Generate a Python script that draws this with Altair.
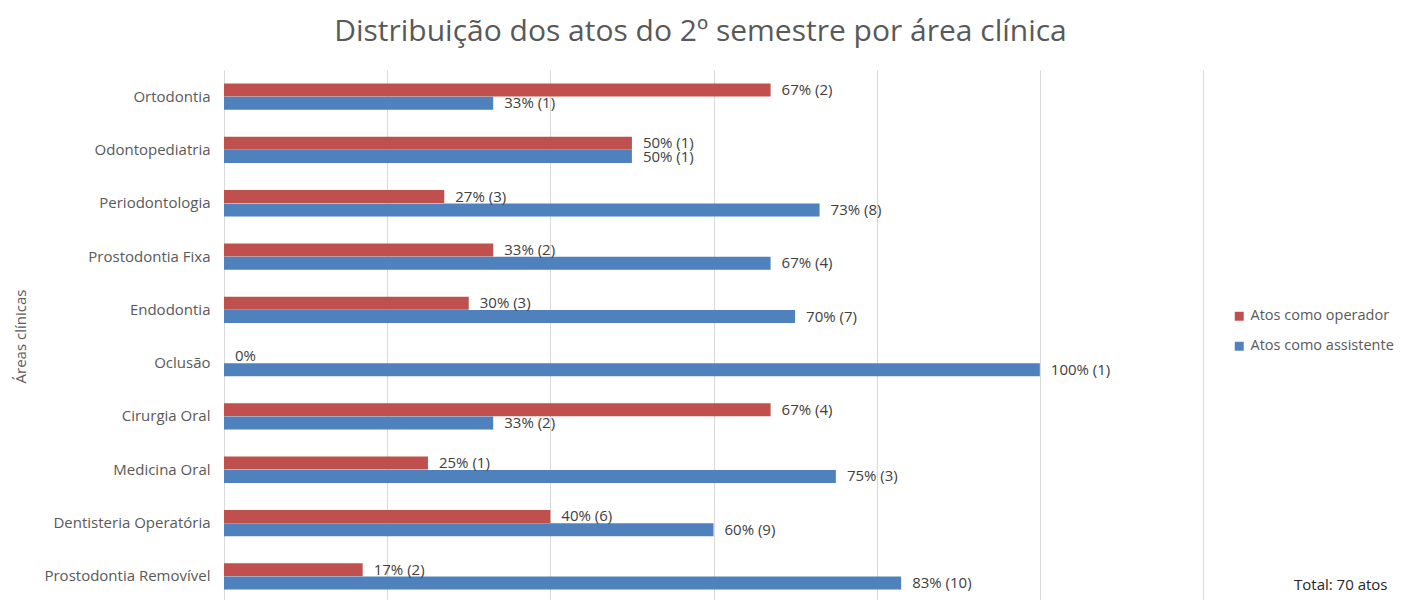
import altair as alt
import pandas as pd

categories = ["Ortodontia", "Odontopediatria", "Periodontologia", "Prostodontia Fixa",
              "Endodontia", "Oclusão", "Cirurgia Oral", "Medicina Oral",
              "Dentisteria Operatória", "Prostodontia Removível"]
series = ["Atos como operador", "Atos como assistente"]
operador_pct = [67, 50, 27, 33, 30, 0, 67, 25, 40, 17]
operador_lbl = ["67% (2)", "50% (1)", "27% (3)", "33% (2)", "30% (3)", "0%",
                "67% (4)", "25% (1)", "40% (6)", "17% (2)"]
assistente_pct = [33, 50, 73, 67, 70, 100, 33, 75, 60, 83]
assistente_lbl = ["33% (1)", "50% (1)", "73% (8)", "67% (4)", "70% (7)", "100% (1)",
                  "33% (2)", "75% (3)", "60% (9)", "83% (10)"]
colors = ["#C0504D", "#4F81BD"]
total_text = "Total: 70 atos"

rows = []
for c, v, l in zip(categories, operador_pct, operador_lbl):
    rows.append({"area": c, "serie": series[0], "pct": v, "lbl": l})
for c, v, l in zip(categories, assistente_pct, assistente_lbl):
    rows.append({"area": c, "serie": series[1], "pct": v, "lbl": l})
df = pd.DataFrame(rows)

FONT = "Open Sans"

y = alt.Y("area:N", sort=categories, title="Áreas clínicas",
          scale=alt.Scale(paddingInner=0.5, paddingOuter=0.25),
          axis=alt.Axis(domain=False, ticks=False, labelPadding=14, labelFontSize=15,
                        labelColor="#595959", labelFont=FONT, titleFont=FONT,
                        titleFontSize=15, titleFontWeight="normal", titleColor="#595959",
                        titleX=-196, titleY=266, titleAngle=-90))
x = alt.X("pct:Q", scale=alt.Scale(domain=[0, 120]), title=None,
          axis=alt.Axis(values=[0, 20, 40, 60, 80, 100, 120], labels=False, ticks=False,
                        domain=False, grid=True, gridColor="#D9D9D9", gridWidth=1))
yoff = alt.YOffset("serie:N", sort=series, scale=alt.Scale(paddingInner=0, paddingOuter=0))
color = alt.Color("serie:N", sort=series,
                  scale=alt.Scale(domain=series, range=colors),
                  legend=alt.Legend(title=None, orient="none", legendX=1008, legendY=239,
                                    symbolType="square", symbolSize=80, labelFontSize=14.5,
                                    labelFont=FONT, labelColor="#595959", rowPadding=15,
                                    symbolStrokeWidth=0, labelOffset=4))

bars = alt.Chart(df).mark_bar(size=13).encode(x=x, y=y, yOffset=yoff, color=color)
labels = alt.Chart(df).mark_text(align="left", dx=11, baseline="middle", fontSize=15,
                                 font=FONT, color="#404040").encode(
    x="pct:Q", y=alt.Y("area:N", sort=categories), yOffset=alt.YOffset("serie:N", sort=series),
    text="lbl:N")
total = alt.Chart(pd.DataFrame({"t": [total_text]})).mark_text(
    align="left", baseline="middle", fontSize=15, font=FONT, color="#262626").encode(
    x=alt.value(1070), y=alt.value(515), text="t:N")

chart = alt.layer(bars, labels, total).properties(
    width=979, height=533,
    title=alt.TitleParams("Distribuição dos atos do 2º semestre por área clínica",
                          fontSize=30, font=FONT, fontWeight="normal", color="#595959",
                          anchor="middle", dx=-13, offset=23),
    autosize=alt.AutoSizeParams(type="none"),
    padding={"left": 216, "top": 62, "right": 200, "bottom": 0},
).configure(background="white", view=alt.ViewConfig(stroke=None))

chart.save("out.html", embed_options={"renderer": "svg", "actions": False})
